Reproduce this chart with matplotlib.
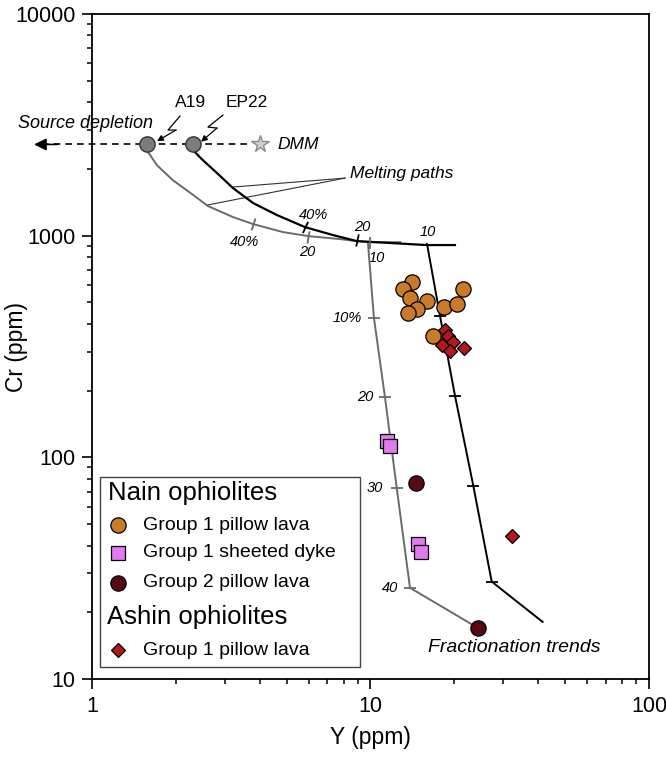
import matplotlib
matplotlib.use('Agg')
import matplotlib.pyplot as plt
from matplotlib.patches import Rectangle
from matplotlib.lines import Line2D

plt.rcParams['font.family'] = ['Liberation Sans', 'DejaVu Sans']

# source compositions
src_names = ['A19', 'EP22']
src_y = [1.58, 2.31]
src_cr = [2580, 2580]
dmm_y, dmm_cr = 4.01, 2580

# melting paths (Y, Cr)
melt_a19_y = [1.58, 1.59, 1.71, 1.95, 2.31, 2.61, 3.21, 3.79, 4.85, 5.97, 7.77, 8.94, 10.0, 12.8]
melt_a19_cr = [2580, 2383, 2082, 1781, 1525, 1360, 1213, 1128, 1038, 996, 965, 945, 935, 935]
melt_ep22_y = [2.31, 2.34, 2.50, 2.81, 3.21, 3.79, 4.62, 5.82, 7.34, 8.94, 15.96, 20.1]
melt_ep22_cr = [2580, 2383, 2193, 1917, 1639, 1403, 1238, 1093, 1006, 945, 907, 907]

# melting degree ticks
melt_tick_labels = ['40%', '20', '10']
melt_a19_tick_y = [3.79, 5.97, 10.0]
melt_a19_tick_cr = [1128, 985, 926]
melt_ep22_tick_labels = ['40%', '20']
melt_ep22_tick_y = [5.82, 8.94]
melt_ep22_tick_cr = [1093, 955]

# fractionation trends
frac_gray_y = [9.8, 10.29, 11.27, 12.42, 13.86, 24.3]
frac_gray_cr = [916, 425, 187, 72.9, 25.8, 17.0]
frac_black_y = [15.96, 17.77, 20.11, 23.39, 27.24, 41.5]
frac_black_cr = [916, 434, 189.6, 74.5, 27.5, 18.1]
frac_tick_labels = ['10%', '20', '30', '40']

# samples
nain_g1_lava_y = [14.06, 13.12, 13.86, 15.91, 14.65, 13.67, 18.36, 20.39, 21.43, 16.81]
nain_g1_lava_cr = [619, 572, 521, 508, 467, 449, 478, 491, 572, 352]
nain_g1_dyke_y = [11.49, 11.75, 14.85, 15.18]
nain_g1_dyke_cr = [118.9, 112.8, 40.6, 37.5]
nain_g2_lava_y = [14.57, 24.3]
nain_g2_lava_cr = [76.3, 17.0]
ashin_g1_lava_y = [18.51, 19.02, 19.83, 18.02, 19.3, 21.66, 32.14]
ashin_g1_lava_cr = [375, 352, 332, 321, 303, 313, 44.2]

c_orange = '#C97A2A'
c_pink = '#E27CEE'
c_maroon = '#560A12'
c_red = '#B2191C'
c_gray = '#6a6a6a'

fig = plt.figure(figsize=(6.66, 7.57), dpi=100)
ax = fig.add_axes([0.1381, 0.1030, 0.8364, 0.8785])
ax.set_xscale('log')
ax.set_yscale('log')
ax.set_xlim(1, 100)
ax.set_ylim(10, 10000)

# source depletion dashed line with arrow
ax.plot([0.66, 3.69], [dmm_cr, dmm_cr], ls=(0, (4, 3)), color='k', lw=1.2, clip_on=False, zorder=2)
ax.annotate('', xy=(0.62, dmm_cr), xytext=(0.75, dmm_cr),
            arrowprops=dict(arrowstyle='-|>', color='k', lw=1.2, mutation_scale=18,
                            shrinkA=0, shrinkB=0), annotation_clip=False)
ax.text(0.944, 3220, 'Source depletion', fontsize=13, style='italic', ha='center', va='center')
ax.plot(dmm_y, dmm_cr, marker='*', ms=13, mfc='#cfcfcf', mec='#8a8a8a', mew=1, zorder=4)
ax.text(4.62, dmm_cr, 'DMM', fontsize=12.5, style='italic', ha='left', va='center')

# melting paths
ax.plot(melt_a19_y, melt_a19_cr, color=c_gray, lw=1.4, zorder=3)
ax.plot(melt_ep22_y, melt_ep22_cr, color='k', lw=1.6, zorder=3)
ax.plot(src_y, src_cr, 'o', ms=11, mfc='#7d7d7d', mec='#333333', mew=1, zorder=5)

# source labels with bolt pointers
ax.text(2.268, 4005, 'A19', fontsize=12.5, ha='center', va='center')
ax.text(3.603, 4005, 'EP22', fontsize=12.5, ha='center', va='center')
bolts = [([2.07, 1.875, 2.002], [3464, 2995, 2995], (1.712, 2671)),
         ([2.953, 2.609, 2.81], [3499, 3090, 3058], (2.463, 2652))]
for bx, by, tip in bolts:
    ax.plot(bx, by, color='k', lw=0.9)
    ax.annotate('', xy=tip, xytext=(bx[-1], by[-1]),
                arrowprops=dict(arrowstyle='-|>', color='k', lw=0.9, mutation_scale=9,
                                shrinkA=0, shrinkB=0))

# melting paths label
ax.text(8.44, 1917, 'Melting paths', fontsize=12.5, style='italic', ha='left', va='center')
ax.plot([8.1, 3.209], [1819, 1657], color='#333333', lw=0.8)
ax.plot([8.1, 2.59], [1819, 1374], color='#333333', lw=0.8)

# melting ticks
for x, y, ang in zip(melt_a19_tick_y, melt_a19_tick_cr, [-18, -10, 0]):
    ax.plot(x, y, marker=(2, 0, ang), ms=9, mec=c_gray, mew=1.3, zorder=4)
for x, y, ang in zip(melt_ep22_tick_y, melt_ep22_tick_cr, [-25, -12]):
    ax.plot(x, y, marker=(2, 0, ang), ms=9, mec='k', mew=1.3, zorder=4)
for lab, x, y in zip(melt_tick_labels, [3.54, 5.92, 10.55], [935, 843, 793]):
    ax.text(x, y, lab, fontsize=10.5, style='italic', ha='center', va='center')
for lab, x, y in zip(melt_ep22_tick_labels, [6.22, 9.32], [1238, 1093]):
    ax.text(x, y, lab, fontsize=10.5, style='italic', ha='center', va='center')
ax.text(16.09, 1038, '10', fontsize=10.5, style='italic', ha='center', va='center')

# fractionation trends
ax.plot(frac_gray_y, frac_gray_cr, color=c_gray, lw=1.4, zorder=3)
ax.plot(frac_black_y, frac_black_cr, color='k', lw=1.4, zorder=3)
ax.plot(frac_gray_y[1:5], frac_gray_cr[1:5], ls='none', marker='_', ms=8, mec=c_gray, mew=1.3, zorder=3)
ax.plot(frac_black_y[1:5], frac_black_cr[1:5], ls='none', marker='_', ms=8, mec='k', mew=1.3, zorder=3)
for lab, x, y in zip(frac_tick_labels, [8.23, 9.56, 10.38, 11.75], frac_gray_cr[1:5]):
    ax.text(x, y, lab, fontsize=10.5, style='italic', ha='center', va='center')
ax.text(32.8, 13.9, 'Fractionation trends', fontsize=14, style='italic', ha='center', va='center')

# samples
ax.plot(nain_g1_lava_y, nain_g1_lava_cr, 'o', ms=11, mfc=c_orange, mec='k', mew=0.9, zorder=6)
ax.plot(nain_g1_dyke_y, nain_g1_dyke_cr, 's', ms=9.5, mfc=c_pink, mec='k', mew=0.9, zorder=6)
ax.plot(nain_g2_lava_y, nain_g2_lava_cr, 'o', ms=11, mfc=c_maroon, mec='k', mew=0.9, zorder=6)
ax.plot(ashin_g1_lava_y, ashin_g1_lava_cr, 'D', ms=7.2, mfc=c_red, mec='k', mew=0.9, zorder=7)

# legend box drawn by hand
ax.add_patch(Rectangle((0.0144, 0.018), 0.4668, 0.286, transform=ax.transAxes,
                       fill=True, fc='white', ec='#444444', lw=1, zorder=8))
ax.text(0.0287, 0.2797, 'Nain ophiolites', transform=ax.transAxes, fontsize=18.5,
        ha='left', va='center', zorder=9)
ax.text(0.027, 0.0937, 'Ashin ophiolites', transform=ax.transAxes, fontsize=18.5,
        ha='left', va='center', zorder=9)
leg_items = [('o', 11, c_orange, 'Group 1 pillow lava', 0.2316),
             ('s', 9.5, c_pink, 'Group 1 sheeted dyke', 0.190),
             ('o', 11, c_maroon, 'Group 2 pillow lava', 0.1444),
             ('D', 7.2, c_red, 'Group 1 pillow lava', 0.0436)]
for mk, ms, col, lab, yy in leg_items:
    ax.add_line(Line2D([0.0467], [yy], marker=mk, ms=ms, mfc=col, mec='k', mew=0.9,
                       transform=ax.transAxes, zorder=9))
    ax.text(0.0916, yy, lab, transform=ax.transAxes, fontsize=14, ha='left', va='center', zorder=9)

# axes styling
for sp in ax.spines.values():
    sp.set_linewidth(1.3)
ax.set_xticks([1, 10, 100])
ax.set_xticklabels(['1', '10', '100'])
ax.set_yticks([10, 100, 1000, 10000])
ax.set_yticklabels(['10', '100', '1000', '10000'])
ax.tick_params(which='major', direction='out', length=7, width=1.2, labelsize=15.5, pad=5)
ax.tick_params(which='minor', direction='out', length=3.6, width=1.1)
ax.set_xlabel('Y (ppm)', fontsize=16.5)
ax.set_ylabel('Cr (ppm)', fontsize=16.5)
ax.xaxis.set_label_coords(0.5, -0.07)
ax.yaxis.set_label_coords(-0.115, 0.5)

fig.savefig('out.png', dpi=100)
